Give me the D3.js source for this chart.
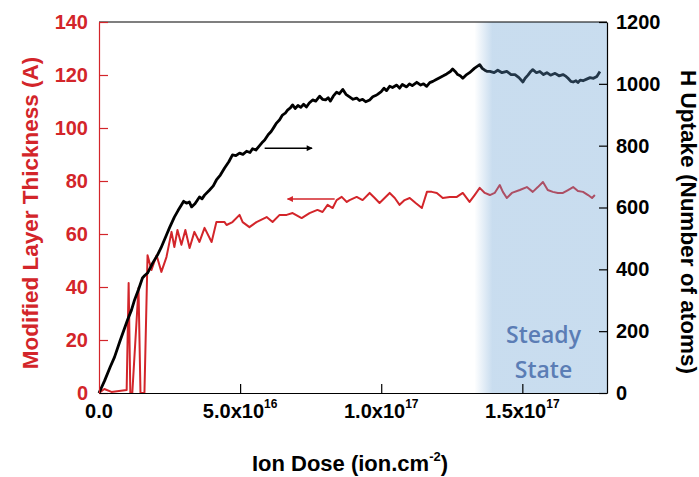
<!DOCTYPE html>
<html>
<head>
<meta charset="utf-8">
<script src="https://cdn.jsdelivr.net/npm/d3@7"></script>
<style>
  html, body { margin: 0; padding: 0; background: #fff; }
  svg { display: block; }
  text { font-family: "Liberation Sans", Arial, sans-serif; font-weight: bold; }
</style>
</head>
<body>
<svg id="chart" width="699" height="477"></svg>
<script>
// ---------- DATA (dose in units of 1e16 ion/cm^2) ----------
const hUptakeDose = [0,0.2,0.4,0.55,0.75,1.01,1.15,1.26,1.4,1.54,1.62,1.72,1.9,2.07,2.2,2.39,2.5,2.67,2.8,2.92,3.0,3.1,3.2,3.28,3.4,3.56,3.65,3.74,3.91,4.05,4.16,4.3,4.45,4.6,4.73,4.85,4.98,5.1,5.23,5.35,5.44,5.56,5.69,5.8,5.87,6.0,6.1,6.2,6.29,6.4,6.5,6.6,6.68,6.78,6.86,6.95,7.05,7.15,7.25,7.35,7.45,7.57,7.68,7.82,7.92,8.03,8.12,8.2,8.3,8.42,8.52,8.64,8.75,8.89,9.0,9.13,9.23,9.34,9.45,9.59,9.7,9.8,9.87,10.0,10.1,10.19,10.3,10.4,10.55,10.65,10.75,10.9,11.0,11.1,11.26,11.4,11.5,11.61,11.72,11.83,11.95,12.07,12.2,12.32,12.45,12.53,12.62,12.71,12.8,12.89,13.0,13.13,13.3,13.49,13.58,13.67,13.76,13.85,14.0,14.13,14.28,14.45,14.6,14.74,14.88,15.02,15.1,15.2,15.3,15.37,15.5,15.62,15.75,15.87,16.0,16.16,16.3,16.44,16.55,16.62,16.72,16.8,16.9,16.97,17.05,17.15,17.3,17.4,17.52,17.64,17.75];
const hUptakeAtoms = [0,40,85,116,170,236,268,301,335,372,380,388,420,446,470,511,535,569,590,608,620,614,618,602,612,634,628,640,656,670,689,705,728,748,770,768,776,772,782,778,790,786,800,812,818,836,846,860,873,884,899,905,915,922,932,920,930,924,934,925,938,948,944,960,950,948,955,944,960,973,968,982,966,957,950,954,946,950,942,948,958,962,966,975,986,978,992,988,996,986,998,990,1000,994,1005,996,1000,992,1004,1008,1014,1020,1026,1032,1040,1048,1040,1030,1026,1018,1028,1036,1050,1062,1050,1044,1040,1040,1036,1044,1036,1040,1030,1030,1020,1006,1018,1028,1040,1046,1036,1040,1030,1036,1028,1034,1026,1030,1024,1018,1008,1006,1010,1004,1012,1010,1016,1020,1018,1024,1040];

const thicknessDose = [0,0.19,0.44,0.98,1.05,1.11,1.18,1.40,1.47,1.61,1.72,1.86,2.04,2.21,2.39,2.57,2.67,2.78,2.92,3.06,3.21,3.38,3.56,3.74,3.99,4.16,4.45,4.52,4.73,4.98,5.09,5.33,5.58,5.94,6.15,6.40,6.65,6.86,7.18,7.46,7.74,7.92,8.10,8.28,8.42,8.60,8.78,8.88,9.13,9.34,9.59,9.77,9.94,10.12,10.30,10.48,10.65,10.83,11.01,11.22,11.44,11.62,11.79,11.97,12.18,12.43,12.68,12.89,13.13,13.31,13.49,13.67,13.85,14.02,14.20,14.31,14.45,14.63,14.91,15.16,15.37,15.55,15.73,15.90,16.08,16.26,16.44,16.62,16.80,16.97,17.15,17.33,17.47,17.57];
const thicknessA = [0,1.5,0.4,1.1,41.5,0,0,39.6,0,0,52,46.4,52,45.7,51.3,60.8,55.1,61.5,55.9,61.5,54.7,60.8,57,62.3,57,64.5,64.5,63.4,64.5,67.2,64.5,62.6,64.5,66.4,64.5,67.2,67.2,67.9,66,67.9,69.1,68.3,71,69.8,72.8,74,72.1,72.8,74,72.8,75.5,73.6,71.7,73.6,75.5,73.6,71,72.8,73.6,71.7,69.8,75.9,75.9,75.5,73.6,74,74,75.5,72.1,74.7,77.4,75.5,74.7,75.5,78.5,75.9,73.6,75.5,76.6,77.7,75.9,77.7,79.6,76.6,75.9,75.5,75.5,76.6,77.7,76.2,75.9,74.7,73.6,74.7];

const xTicks = [0, 5, 10, 15];
const xTickMantissa = ["0.0", "5.0x10", "1.0x10", "1.5x10"];
const xTickExponent = ["", "16", "17", "17"];
const leftTicks = [0, 20, 40, 60, 80, 100, 120, 140];
const rightTicks = [0, 200, 400, 600, 800, 1000, 1200];
const steadyStateRange = [13.3, 18];
const blackArrow = {from: [5.87, 792], to: [7.55, 792]};   // right axis units
const redArrow = {from: [8.35, 73.2], to: [6.68, 73.2]};    // left axis units
const leftTitle = "Modified Layer Thickness (A)";
const rightTitle = "H Uptake (Number of atoms)";
const steadyLabel = ["Steady", "State"];

// ---------- LAYOUT ----------
const svg = d3.select("#chart");
const L = 99, R = 607, T = 22, B = 393;
const RED = "#d3252a";
const x = d3.scaleLinear().domain([0, 18]).range([L, R]);
const yL = d3.scaleLinear().domain([0, 140]).range([B, T]);
const yR = d3.scaleLinear().domain([0, 1200]).range([B, T]);

const defs = svg.append("defs");
const grad = defs.append("linearGradient").attr("id", "band")
  .attr("gradientUnits", "userSpaceOnUse")
  .attr("x1", x(steadyStateRange[0])).attr("x2", x(steadyStateRange[0]) + 18)
  .attr("y1", 0).attr("y2", 0);
grad.append("stop").attr("offset", 0).attr("stop-color", "rgb(100,157,209)").attr("stop-opacity", 0);
grad.append("stop").attr("offset", 1).attr("stop-color", "rgb(100,157,209)").attr("stop-opacity", 0.35);

["ah-black", "ah-red"].forEach((id, i) => {
  defs.append("marker").attr("id", id).attr("viewBox", "0 0 10 10")
    .attr("refX", 9).attr("refY", 5).attr("markerWidth", 5).attr("markerHeight", 4)
    .attr("markerUnits", "strokeWidth").attr("orient", "auto")
    .append("path").attr("d", "M0,0 L10,5 L0,10 z").attr("fill", i ? RED : "#000");
});

// lines
const redLine = d3.line().x(d => x(d[0])).y(d => yL(d[1]));
const blackLine = d3.line().x(d => x(d[0])).y(d => yR(d[1]));
svg.append("path").datum(thicknessDose.map((d, i) => [d, thicknessA[i]]))
  .attr("d", redLine).attr("fill", "none").attr("stroke", RED)
  .attr("stroke-width", 2).attr("stroke-linejoin", "round");
svg.append("path").datum(hUptakeDose.map((d, i) => [d, hUptakeAtoms[i]]))
  .attr("d", blackLine).attr("fill", "none").attr("stroke", "#000")
  .attr("stroke-width", 2.8).attr("stroke-linejoin", "round");

// arrows
svg.append("line")
  .attr("x1", x(blackArrow.from[0])).attr("y1", yR(blackArrow.from[1]))
  .attr("x2", x(blackArrow.to[0])).attr("y2", yR(blackArrow.to[1]))
  .attr("stroke", "#000").attr("stroke-width", 1.5).attr("marker-end", "url(#ah-black)");
svg.append("line")
  .attr("x1", x(redArrow.from[0])).attr("y1", yL(redArrow.from[1]))
  .attr("x2", x(redArrow.to[0])).attr("y2", yL(redArrow.to[1]))
  .attr("stroke", RED).attr("stroke-width", 1.5).attr("marker-end", "url(#ah-red)");

// steady state band (over lines)
svg.append("rect")
  .attr("x", x(steadyStateRange[0])).attr("y", T)
  .attr("width", x(steadyStateRange[1]) - x(steadyStateRange[0])).attr("height", B - T)
  .attr("fill", "url(#band)");

svg.selectAll("text.steady").data(steadyLabel).enter().append("text")
  .attr("class", "steady")
  .attr("x", x(15.75)).attr("y", (d, i) => 343 + i * 35)
  .attr("text-anchor", "middle")
  .style("font-family", "'Open Sans', sans-serif").style("font-weight", 600)
  .style("font-size", "23px").attr("fill", "#5b7db5").text(d => d);

// top border
svg.append("line").attr("x1", L).attr("x2", R).attr("y1", T).attr("y2", T)
  .attr("stroke", "#000").attr("stroke-width", 1.2);

// left axis
const gL = svg.append("g").attr("transform", `translate(${L},0)`)
  .call(d3.axisLeft(yL).tickValues(leftTicks).tickSize(-9).tickSizeOuter(0).tickPadding(11).tickFormat(d3.format("d")));
gL.select(".domain").attr("stroke", RED).attr("stroke-width", 1.2);
gL.selectAll(".tick line").attr("stroke", RED).attr("stroke-width", 1.2);
gL.selectAll(".tick text").attr("fill", RED).style("font-size", "20px")
  .style("font-family", "'Liberation Sans', Arial, sans-serif").style("font-weight", "bold");

// right axis
const gR = svg.append("g").attr("transform", `translate(${R},0)`)
  .call(d3.axisRight(yR).tickValues(rightTicks).tickSize(-8).tickSizeOuter(0).tickPadding(9).tickFormat(d3.format("d")));
gR.select(".domain").attr("stroke", "#000").attr("stroke-width", 1.2);
gR.selectAll(".tick line").attr("stroke", "#000").attr("stroke-width", 1.2);
gR.selectAll(".tick text").attr("fill", "#000").style("font-size", "20px")
  .style("font-family", "'Liberation Sans', Arial, sans-serif").style("font-weight", "bold");

// bottom axis
const gB = svg.append("g").attr("transform", `translate(0,${B})`)
  .call(d3.axisBottom(x).tickValues(xTicks).tickSize(-9).tickSizeOuter(0).tickFormat(""));
gB.select(".domain").attr("stroke", "#000").attr("stroke-width", 1.2);
gB.selectAll(".tick line").attr("stroke", "#000").attr("stroke-width", 1.2)
  .attr("opacity", d => d === 0 ? 0 : 1);
xTicks.forEach((v, i) => {
  const t = svg.append("text").attr("x", x(v)).attr("y", 418)
    .attr("text-anchor", "middle").style("font-size", "20px").attr("fill", "#000");
  t.append("tspan").text(xTickMantissa[i]);
  if (xTickExponent[i]) t.append("tspan").attr("dy", -10).style("font-size", "12px").text(xTickExponent[i]);
});

// titles
const xt = svg.append("text").attr("x", 350).attr("y", 471).attr("text-anchor", "middle")
  .style("font-size", "22px").attr("fill", "#000");
xt.append("tspan").text("Ion Dose (ion.cm");
xt.append("tspan").attr("dy", -10).style("font-size", "13px").text("-2");
xt.append("tspan").attr("dy", 10).text(")");

svg.append("text").attr("transform", "translate(30,213) rotate(-90)")
  .attr("text-anchor", "middle").attr("dominant-baseline", "central")
  .style("font-size", "22.5px").attr("fill", RED).text(leftTitle);
svg.append("text").attr("transform", "translate(688,222) rotate(90)")
  .attr("text-anchor", "middle").attr("dominant-baseline", "central")
  .style("font-size", "22.5px").attr("fill", "#000").text(rightTitle);
</script>
</body>
</html>
